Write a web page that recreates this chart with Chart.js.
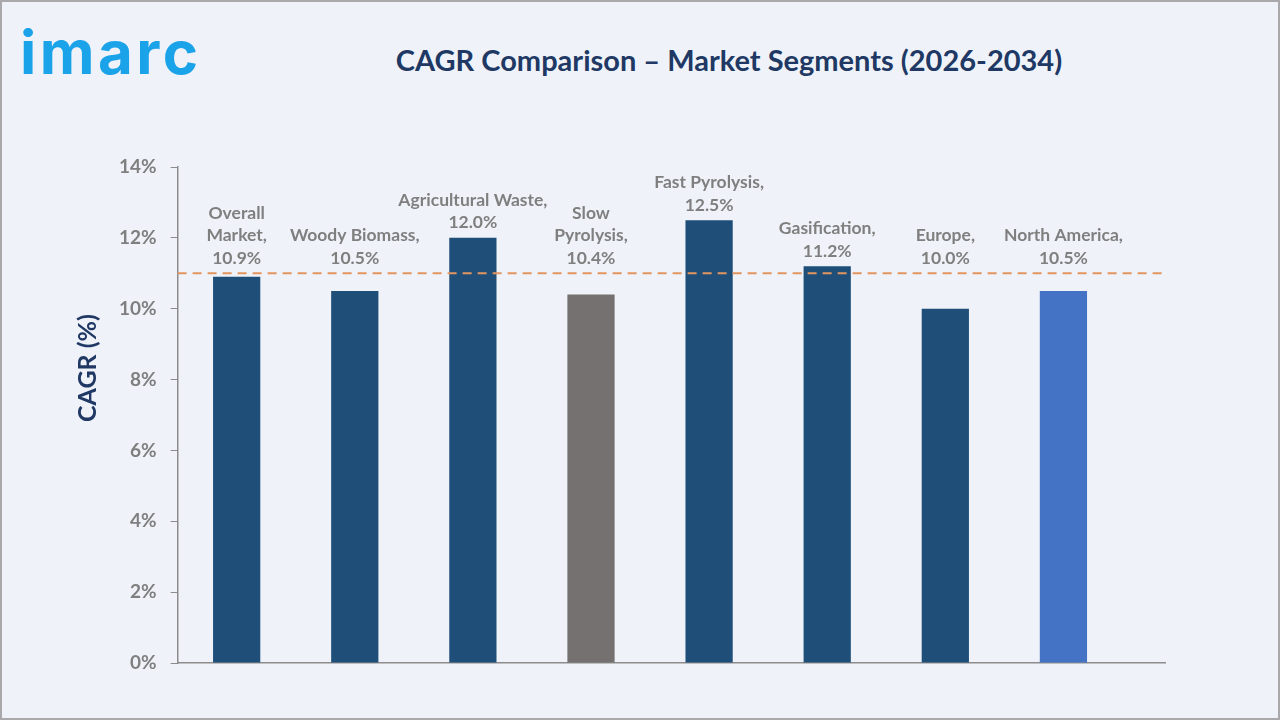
<!DOCTYPE html>
<html>
<head>
<meta charset="utf-8">
<script src="https://cdn.jsdelivr.net/npm/chart.js@4"></script>
<style>
  html, body { margin: 0; padding: 0; }
  body { width: 1280px; height: 720px; background: #eff3f9; position: relative; overflow: hidden; }
  #frame { position: absolute; left: 0; top: 0; width: 1276px; height: 716px; border: 2px solid #a9a9ab; }
  #logo { position: absolute; left: 20px; top: 16px; font-family: "Inter", sans-serif; font-weight: 700; font-size: 60px; color: #1ba3ea; letter-spacing: 3.5px; }
  #title { position: absolute; left: 0; width: 1458px; top: 42px; text-align: center; font-family: "Lato", sans-serif; font-weight: 700; font-size: 29px; color: #203864; }
  #wrap { position: absolute; left: 0; top: 0; width: 1280px; height: 720px; }
</style>
</head>
<body>
<div id="frame"></div>
<div id="logo">imarc</div>
<div id="title">CAGR Comparison – Market Segments (2026-2034)</div>
<div id="wrap"><canvas id="chart"></canvas></div>
<script>
const categories = ["Overall Market","Woody Biomass","Agricultural Waste","Slow Pyrolysis","Fast Pyrolysis","Gasification","Europe","North America"];
const labelLines = [
  ["Overall","Market,","10.9%"],
  ["Woody Biomass,","10.5%"],
  ["Agricultural Waste,","12.0%"],
  ["Slow","Pyrolysis,","10.4%"],
  ["Fast Pyrolysis,","12.5%"],
  ["Gasification,","11.2%"],
  ["Europe,","10.0%"],
  ["North America,","10.5%"]
];
const cagr = [10.9, 10.5, 12.0, 10.4, 12.5, 11.2, 10.0, 10.5];
const overallCagr = 11.0;
const yTicks = [0, 2, 4, 6, 8, 10, 12, 14];
const yTitle = "CAGR (%)";

// colour per kind of segment
const kindColor = { market: "#1f4e79", slow: "#767171", region: "#4472c4" };
const barColors = categories.map(c => c === "Slow Pyrolysis" ? kindColor.slow : c === "North America" ? kindColor.region : kindColor.market);

const labelsPlugin = {
  id: "segLabels",
  afterDatasetsDraw(chart) {
    const ctx = chart.ctx;
    const y = chart.scales.y;
    const refY = y.getPixelForValue(overallCagr);
    // dashed reference line
    ctx.save();
    ctx.strokeStyle = "#e3955f";
    ctx.lineWidth = 2;
    ctx.setLineDash([9, 6]);
    ctx.beginPath();
    ctx.moveTo(chart.chartArea.left, refY);
    ctx.lineTo(chart.chartArea.right, refY);
    ctx.stroke();
    ctx.restore();

    ctx.save();
    ctx.font = "bold 17.5px Lato";
    ctx.fillStyle = "#7f7f7f";
    ctx.textAlign = "center";
    ctx.textBaseline = "middle";
    chart.getDatasetMeta(0).data.forEach((bar, i) => {
      const lines = labelLines[i];
      const base = Math.min(bar.y, refY) - 15;
      lines.forEach((t, j) => {
        ctx.fillText(t, bar.x, base - (lines.length - 1 - j) * 22.5);
      });
    });
    ctx.restore();

    // axis title
    ctx.save();
    ctx.translate(88, 368);
    ctx.rotate(-Math.PI / 2);
    ctx.font = "bold 25px Lato";
    ctx.fillStyle = "#203864";
    ctx.textAlign = "center";
    ctx.textBaseline = "middle";
    ctx.fillText(yTitle, 0, 0);
    ctx.restore();
  }
};

new Chart(document.getElementById("chart"), {
  type: "bar",
  data: {
    datasets: [{
      data: cagr.map((v, i) => ({ x: i, y: v })),
      backgroundColor: barColors,
      barPercentage: 0.8, categoryPercentage: 0.5
    }]
  },
  options: {
    responsive: true,
    maintainAspectRatio: false,
    animation: false,
    layout: { padding: { left: 105, right: 115, top: 167, bottom: 57 } },
    plugins: { legend: { display: false }, tooltip: { enabled: false } },
    scales: {
      x: {
        type: "linear",
        offset: false,
        min: -0.5, max: 7.86,
        afterBuildTicks: s => { s.ticks = categories.map((c, i) => ({ value: i })); },
        grid: { display: false, drawTicks: false },
        border: { color: "#8c8c8c", width: 1.5 },
        ticks: { display: false }
      },
      y: {
        min: 0, max: 14,
        afterBuildTicks: s => { s.ticks = yTicks.map(v => ({ value: v })); },
        grid: { drawOnChartArea: false, tickLength: 7, color: "#8c8c8c" },
        border: { color: "#8c8c8c", width: 1.5 },
        ticks: { padding: 14, color: "#7f7f7f", font: { family: "Lato", size: 19, weight: "bold" }, callback: v => v + "%" }
      }
    }
  },
  plugins: [labelsPlugin]
});
</script>
</body>
</html>
